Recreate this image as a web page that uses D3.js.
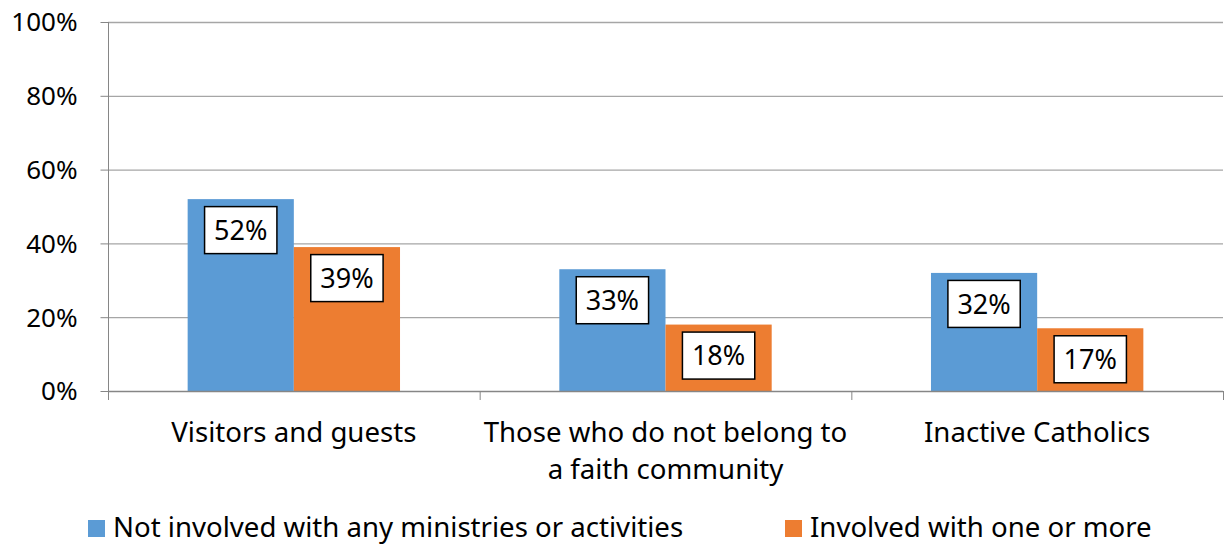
<!DOCTYPE html>
<html>
<head>
<meta charset="utf-8">
<script src="https://cdn.jsdelivr.net/npm/d3@7"></script>
<style>
  html, body { margin: 0; padding: 0; background: #fff; }
  svg { display: block; font-family: "Noto Sans", "Open Sans", sans-serif; }
</style>
</head>
<body>
<svg id="chart" width="1225" height="548"></svg>
<script>
const categories = ["Visitors and guests", "Those who do not belong to\na faith community", "Inactive Catholics"];
const seriesNames = ["Not involved with any ministries or activities", "Involved with one or more"];
const notInvolved = [0.52, 0.33, 0.32];
const involved = [0.39, 0.18, 0.17];
const yTicks = [0, 0.2, 0.4, 0.6, 0.8, 1.0];
const colors = ["#5B9BD5", "#ED7D31"];

(function () {
const seriesValues = [notInvolved, involved];
const svg = d3.select("#chart");
const tickFont = 26, catFont = 27.6, valFont = 27;

const pLeft = 108, pRight = 1223, pTop = 22, pBottom = 391;
const x = d3.scaleBand().domain(categories).range([pLeft, pRight]).padding(0);
const bw = x.bandwidth();
const x1 = d3.scaleBand().domain(seriesNames).range([bw * 0.2143, bw * 0.7857]).padding(0);
const y = d3.scaleLinear().domain([0, 1]).range([pBottom, pTop]);

// gridlines
svg.append("g").selectAll("line").data(yTicks.filter(d => d > 0)).join("line")
  .attr("x1", pLeft).attr("x2", pRight)
  .attr("y1", d => y(d) + 0.5).attr("y2", d => y(d) + 0.5)
  .attr("stroke", "#A6A6A6").attr("stroke-width", 1.3);

// y axis
const yAxis = svg.append("g").attr("transform", `translate(${pLeft + 0.5},0)`)
  .call(d3.axisLeft(y).tickValues(yTicks).tickFormat(d3.format(".0%")).tickSize(8).tickPadding(23));
yAxis.select(".domain").attr("stroke", "#868686").attr("d", `M0,${pTop}V${pBottom + 9}`);
yAxis.selectAll(".tick line").attr("stroke", "#868686");
yAxis.selectAll(".tick text").attr("font-size", tickFont).attr("fill", "#000")
  .attr("font-family", '"Noto Sans", sans-serif').attr("dy", "0.34em");

// bars
const groups = svg.append("g").selectAll("g").data(categories).join("g")
  .attr("transform", d => `translate(${x(d)},0)`);
groups.each(function(cat, ci) {
  const g = d3.select(this);
  seriesNames.forEach((s, si) => {
    const v = seriesValues[si][ci];
    g.append("rect")
      .attr("x", x1(s)).attr("width", x1.bandwidth())
      .attr("y", y(v)).attr("height", y(0) - y(v))
      .attr("fill", colors[si]);
  });
});

// x axis
svg.append("line").attr("x1", pLeft).attr("x2", pRight)
  .attr("y1", pBottom + 0.5).attr("y2", pBottom + 0.5).attr("stroke", "#868686").attr("stroke-width", 1.3);
const tickXs = categories.map(c => x(c)).concat([pRight]);
svg.append("g").selectAll("line").data(tickXs).join("line")
  .attr("x1", d => d + 0.5).attr("x2", d => d + 0.5)
  .attr("y1", pBottom).attr("y2", pBottom + 9)
  .attr("stroke", "#868686");

// category labels
svg.append("g").selectAll("text").data(categories).join("text")
  .attr("x", d => x(d) + bw / 2)
  .attr("y", 442)
  .attr("text-anchor", "middle")
  .attr("font-size", catFont)
  .attr("fill", "#000")
  .each(function(d) {
    const t = d3.select(this);
    d.split("\n").forEach((line, i) => {
      t.append("tspan").attr("x", x(d) + bw / 2).attr("dy", i === 0 ? 0 : 37).text(line);
    });
  });

// value labels
groups.each(function(cat, ci) {
  const g = d3.select(this);
  seriesNames.forEach((s, si) => {
    const v = seriesValues[si][ci];
    const cx = x1(s) + x1.bandwidth() / 2;
    const lg = g.append("g");
    const txt = lg.append("text")
      .attr("x", cx).attr("text-anchor", "middle")
      .attr("font-size", valFont).attr("fill", "#000")
      .text(d3.format(".0%")(v));
    const w = txt.node().getComputedTextLength() + 19;
    const boxTop = y(v) + 7.5;
    const h = 47;
    lg.insert("rect", "text")
      .attr("x", cx - w / 2).attr("y", boxTop)
      .attr("width", w).attr("height", h)
      .attr("fill", "#fff").attr("stroke", "#000").attr("stroke-width", 1.5);
    txt.attr("y", boxTop + h / 2).attr("dy", "0.36em");
  });
});

// legend
const legendX = [88, 785];
const lg = svg.append("g").selectAll("g").data(seriesNames).join("g")
  .attr("transform", (d, i) => `translate(${legendX[i]},520)`);
lg.append("rect").attr("width", 17).attr("height", 17).attr("fill", (d, i) => colors[i]);
lg.append("text").attr("x", 25).attr("y", 17).attr("font-size", catFont).attr("fill", "#000").text(d => d);
})();
</script>
</body>
</html>
